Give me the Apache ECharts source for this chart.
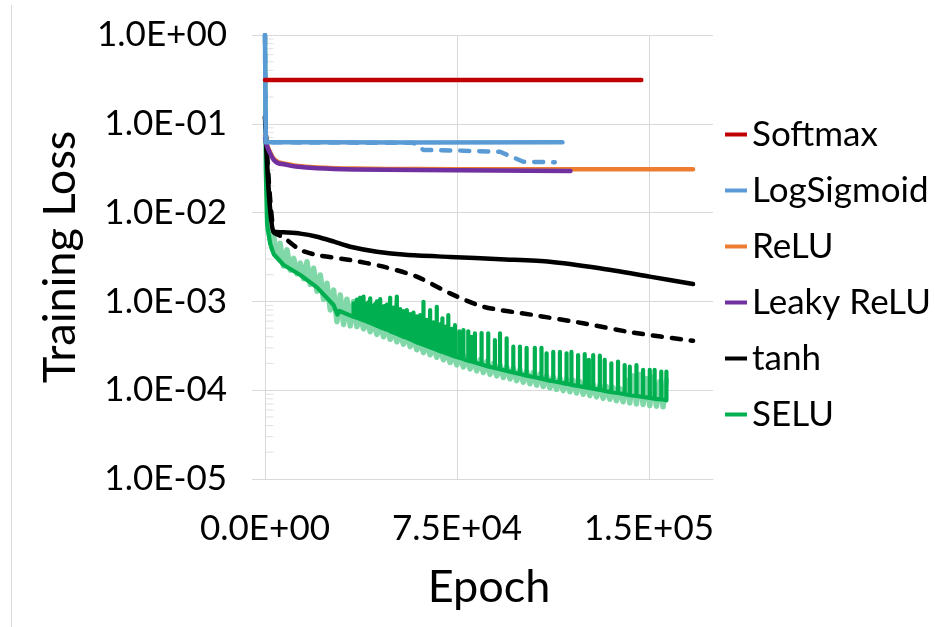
<!DOCTYPE html>
<html><head><meta charset="utf-8">
<script src="https://cdn.jsdelivr.net/npm/echarts@6/dist/echarts.min.js"></script>
<style>html,body{margin:0;padding:0;background:#fff}#c{width:935px;height:627px}</style>
</head><body><div id="c"></div>
<script>
// ---- tick labels ----
const xTickValues = [0, 75000, 150000];
const xTickLabels = ['0.0E+00', '7.5E+04', '1.5E+05'];
const yTickValues = [1e-5, 1e-4, 1e-3, 1e-2, 1e-1, 1];
const yTickLabels = ['1.0E-05', '1.0E-04', '1.0E-03', '1.0E-02', '1.0E-01', '1.0E+00'];
const yMinorMultipliers = [2, 3, 4, 5, 6, 7, 8, 9];
const legendNames = ['Softmax', 'LogSigmoid', 'ReLU', 'Leaky ReLU', 'tanh', 'SELU'];

// ---- series values (epoch, training loss) ----
const softmaxEpoch = [0, 147000];
const softmaxLoss = [0.311, 0.311];

const logSigmoidEpoch = [0, 300, 20000, 55000, 116200];
const logSigmoidLoss = [1.0, 0.062, 0.0619, 0.0616, 0.0618];

const logSigmoid2Epoch = [0, 300, 58000, 61900, 75000, 91800, 100900, 113200];
const logSigmoid2Loss = [1.0, 0.062, 0.061, 0.0507, 0.0500, 0.0484, 0.0374, 0.0369];

const reluEpoch = [0, 600, 1400, 3400, 5300, 7300, 12000, 20300, 35000, 59300, 90000, 120000, 167200];
const reluLoss = [0.075, 0.061, 0.052, 0.0405, 0.0368, 0.0357, 0.0337, 0.0322, 0.0313, 0.0309, 0.0308, 0.0307, 0.0307];

const leakyEpoch = [0, 600, 1400, 3400, 5300, 7300, 12000, 20300, 35000, 59300, 90000, 119300];
const leakyLoss = [0.07, 0.058, 0.0507, 0.0392, 0.0358, 0.0350, 0.0330, 0.0315, 0.0306, 0.0302, 0.0298, 0.0295];

const tanhEpoch = [0, 3300, 7300, 13800, 20300, 27000, 33300, 43700, 55000, 72300, 92000, 111300, 130800, 150300, 167200];
const tanhLoss = [0.12, 0.0061, 0.0060, 0.0058, 0.00535, 0.0047, 0.00413, 0.00363, 0.00335, 0.00317, 0.00298, 0.0028, 0.00236, 0.0019, 0.00157];

const tanh2Epoch = [0, 3300, 7100, 13800, 20300, 33300, 46300, 59300, 72300, 85300, 104800, 124300, 143800, 167200];
const tanh2Loss = [0.12, 0.0061, 0.0053, 0.0038, 0.00333, 0.00292, 0.00246, 0.0019, 0.00123, 0.00087, 0.000703, 0.000567, 0.000445, 0.00036];

const seluSmoothEpoch = [0, 300, 800, 2000, 3400, 7300, 13800, 20300, 26800, 28300, 29100, 34600];
const seluSmoothLoss = [1.0, 0.03, 0.0075, 0.0045, 0.0034, 0.00257, 0.00198, 0.00144, 0.00091, 0.00071, 0.00078, 0.00067];

const seluSpikeEpoch = [34600, 35300, 35900, 36600, 37200, 37900, 38500, 39200, 39800, 40500, 41100, 41800, 42400, 43100, 43700, 44400, 45000, 45700, 46300, 47000, 47600, 48300, 48900, 49600, 50200, 50900, 51500, 52200, 52800, 54100, 55400, 56700, 58000, 59300, 60600, 61900, 63200, 64500, 65800, 67100, 68400, 69300, 70500, 71600, 72900, 74200, 75900, 77500, 79400, 80700, 82000, 84600, 87200, 89800, 91800, 94400, 97000, 99600, 102200, 105400, 108000, 110000, 112600, 115200, 117800, 119700, 122300, 124900, 126500, 128200, 130800, 132700, 135300, 137900, 140500, 142500, 145100, 147700, 150300, 152200, 154800, 156800];
const seluSpikeBase = [6.7e-4, 6.6e-4, 6.5e-4, 6.4e-4, 6.3e-4, 6.2e-4, 6.1e-4, 6.0e-4, 5.9e-4, 5.8e-4, 5.7e-4, 5.6e-4, 5.5e-4, 5.4e-4, 5.3e-4, 5.2e-4, 5.1e-4, 5.0e-4, 4.95e-4, 4.85e-4, 4.8e-4, 4.7e-4, 4.6e-4, 4.5e-4, 4.45e-4, 4.35e-4, 4.3e-4, 4.2e-4, 4.15e-4, 4.0e-4, 3.9e-4, 3.75e-4, 3.6e-4, 3.45e-4, 3.35e-4, 3.25e-4, 3.15e-4, 3.05e-4, 2.95e-4, 2.85e-4, 2.75e-4, 2.7e-4, 2.62e-4, 2.55e-4, 2.47e-4, 2.4e-4, 2.32e-4, 2.25e-4, 2.15e-4, 2.1e-4, 2.05e-4, 1.95e-4, 1.85e-4, 1.78e-4, 1.72e-4, 1.65e-4, 1.58e-4, 1.52e-4, 1.46e-4, 1.4e-4, 1.35e-4, 1.3e-4, 1.26e-4, 1.22e-4, 1.18e-4, 1.15e-4, 1.12e-4, 1.08e-4, 1.06e-4, 1.04e-4, 1.01e-4, 9.8e-5, 9.5e-5, 9.3e-5, 9.0e-5, 8.8e-5, 8.6e-5, 8.4e-5, 8.2e-5, 8.0e-5, 7.9e-5, 7.7e-5];
const seluSpikePeak = [9.5e-4, 8.8e-4, 1.05e-3, 9.2e-4, 1.1e-3, 9.6e-4, 1.13e-3, 9.0e-4, 9.5e-4, 9.8e-4, 1.08e-3, 8.7e-4, 9.0e-4, 9.4e-4, 1.0e-3, 9.0e-4, 1.06e-3, 8.5e-4, 8.8e-4, 8.9e-4, 9.2e-4, 8.4e-4, 1.1e-3, 8.3e-4, 8.5e-4, 8.1e-4, 1.13e-3, 7.9e-4, 8.2e-4, 7.8e-4, 8.0e-4, 7.2e-4, 7.5e-4, 6.8e-4, 7.0e-4, 9.9e-4, 6.2e-4, 8.0e-4, 5.8e-4, 8.7e-4, 5.5e-4, 6.45e-4, 5.2e-4, 7.0e-4, 4.9e-4, 5.4e-4, 4.6e-4, 4.76e-4, 4.6e-4, 4.0e-4, 4.37e-4, 4.4e-4, 4.37e-4, 3.67e-4, 4.37e-4, 3.84e-4, 3.09e-4, 3.09e-4, 3.0e-4, 3.0e-4, 3.0e-4, 2.6e-4, 2.7e-4, 2.7e-4, 2.6e-4, 2.7e-4, 2.49e-4, 2.55e-4, 2.2e-4, 2.49e-4, 2.45e-4, 2.19e-4, 2.01e-4, 2.1e-4, 1.92e-4, 1.84e-4, 1.92e-4, 1.69e-4, 1.69e-4, 1.69e-4, 1.62e-4, 1.62e-4];

const seluLightEpoch = [1000, 1500, 2800, 3400, 4600, 5900, 7200, 8600, 9900, 11200, 12500, 13800, 15100, 16400, 17700, 19000, 20300, 21600, 22900, 24200, 25500, 26800, 28100, 29400, 30700, 32000, 33300, 34600, 35900, 37200, 38500, 39800, 41100, 42400, 43700, 45000, 46300, 47600, 48900, 50200, 51500, 52800, 54100, 55400, 56700, 58000, 59300, 60600, 61900, 63200, 64500, 65800, 67100, 68400, 69700, 71000, 72300, 73600, 74900, 76200, 77500, 78800, 80100, 81400, 82700, 84000, 85300, 86600, 87900, 89200, 90500, 91800, 93100, 94400, 95700, 97000, 98300, 99600, 100900, 102200, 103500, 104800, 106100, 107400, 108700, 110000, 111300, 112600, 113900, 115200, 116500, 117800, 119100, 120400, 121700, 123000, 124300, 125600, 126900, 128200, 129500, 130800, 132100, 133400, 134700, 136000, 137300, 138600, 139900, 141200, 142500, 143800, 145100, 146400, 147700, 149000, 150300, 151600, 152900, 154200, 155500, 156800];
const seluLightLoss = [6.5e-3, 6.0e-3, 3.9e-3, 5.4e-3, 3.2e-3, 4.5e-3, 2.5e-3, 3.8e-3, 2.25e-3, 3.05e-3, 2.05e-3, 2.7e-3, 1.8e-3, 2.8e-3, 1.55e-3, 2.36e-3, 1.3e-3, 1.98e-3, 1.05e-3, 1.6e-3, 8.0e-4, 1.34e-3, 5.9e-4, 1.18e-3, 5.5e-4, 1.06e-3, 5.3e-4, 1.0e-3, 5.2e-4, 7.0e-4, 4.9e-4, 6.4e-4, 4.55e-4, 6.0e-4, 4.25e-4, 5.5e-4, 4.0e-4, 5.2e-4, 3.75e-4, 4.8e-4, 3.5e-4, 4.5e-4, 3.3e-4, 4.2e-4, 3.1e-4, 3.9e-4, 2.85e-4, 3.6e-4, 2.65e-4, 3.4e-4, 2.5e-4, 3.2e-4, 2.35e-4, 3.0e-4, 2.2e-4, 2.8e-4, 2.05e-4, 2.65e-4, 1.93e-4, 2.5e-4, 1.83e-4, 2.4e-4, 1.74e-4, 2.3e-4, 1.65e-4, 2.2e-4, 1.58e-4, 2.1e-4, 1.51e-4, 2.0e-4, 1.45e-4, 1.92e-4, 1.39e-4, 1.85e-4, 1.34e-4, 1.78e-4, 1.28e-4, 1.7e-4, 1.23e-4, 1.64e-4, 1.18e-4, 1.58e-4, 1.14e-4, 1.52e-4, 1.1e-4, 1.46e-4, 1.06e-4, 1.42e-4, 1.02e-4, 1.37e-4, 9.9e-5, 1.33e-4, 9.6e-5, 1.29e-4, 9.3e-5, 1.25e-4, 9.0e-5, 1.21e-4, 8.7e-5, 1.17e-4, 8.4e-5, 1.14e-4, 8.1e-5, 1.1e-4, 7.9e-5, 1.07e-4, 7.6e-5, 1.04e-4, 7.4e-5, 1.3e-4, 7.2e-5, 1.45e-4, 7.0e-5, 1.5e-4, 6.9e-5, 1.35e-4, 6.7e-5, 1.4e-4, 6.6e-5, 1.25e-4, 6.5e-5, 1.3e-4];

// ---- build chart ----
const FONT = 'Lato';
const GRIDC = '#d9d9d9';
const pairs = (xs, ys) => xs.map((x, i) => [x, ys[i]]);

const seluDark = pairs(seluSmoothEpoch, seluSmoothLoss);
seluSpikeEpoch.forEach((e, i) => {
  seluDark.push([e, seluSpikeBase[i]], [e, seluSpikePeak[i]], [e, seluSpikeBase[i]]);
});
const minorTickData = [];
yTickValues.slice(0, -1).forEach(d => yMinorMultipliers.forEach(m => minorTickData.push([0, d * m])));

function lineSeries(name, data, color, width, extra) {
  return Object.assign({
    type: 'line', name: name, data: data,
    symbol: 'none', showSymbol: false, animation: false, silent: true,
    itemStyle: { color: color },
    lineStyle: { color: color, width: width, cap: 'round', join: 'round' },
    emphasis: { disabled: true }
  }, extra || {});
}
const dashed = (c, w) => ({ color: c, width: w, type: [9, 10], cap: 'round', join: 'round' });

function findLabel(values, labels, v, useLog) {
  for (let i = 0; i < values.length; i++) {
    const a = useLog ? Math.log10(values[i]) : values[i];
    const b = useLog ? Math.log10(v) : v;
    if (Math.abs(a - b) < 1e-6 * (useLog ? 1 : 100000)) return labels[i];
  }
  return '';
}

const chart = echarts.init(document.getElementById('c'), null, { renderer: 'canvas', width: 935, height: 627 });
chart.setOption({
  backgroundColor: '#ffffff',
  animation: false,
  grid: { left: 265, top: 35, width: 448, height: 444, containLabel: false, outerBoundsMode: 'none' },
  legend: {
    data: legendNames, orient: 'vertical', left: 720, top: 112,
    icon: 'rect', itemWidth: 22, itemHeight: 4, itemGap: 21, selectedMode: false,
    textStyle: { fontFamily: FONT, fontSize: 35, color: '#000' }
  },
  xAxis: {
    type: 'value', min: 0, max: 175000, interval: 75000,
    name: 'Epoch', nameLocation: 'middle', nameGap: 86,
    nameTextStyle: { fontFamily: FONT, fontSize: 45, color: '#000' },
    axisLine: { show: true, onZero: false, lineStyle: { color: GRIDC, width: 1 } },
    axisTick: { show: false },
    axisLabel: {
      margin: 32, fontFamily: FONT, fontSize: 35, color: '#000', showMaxLabel: false,
      formatter: v => findLabel(xTickValues, xTickLabels, v, false)
    },
    splitLine: { show: true, showMaxLine: false, lineStyle: { color: GRIDC, width: 1 } }
  },
  yAxis: {
    type: 'log', logBase: 10, min: 1e-5, max: 1,
    name: 'Training Loss', nameLocation: 'middle', nameGap: 182, nameRotate: 90,
    nameTextStyle: { fontFamily: FONT, fontSize: 45, color: '#000' },
    axisLine: { show: true, lineStyle: { color: GRIDC, width: 1 } },
    axisTick: { show: true, inside: false, length: 13, lineStyle: { color: GRIDC, width: 1 } },
    minorTick: { show: false },
    axisLabel: {
      margin: 38, fontFamily: FONT, fontSize: 35, color: '#000',
      formatter: v => findLabel(yTickValues, yTickLabels, v, true)
    },
    splitLine: { show: true, lineStyle: { color: GRIDC, width: 1 } }
  },
  graphic: [{
    type: 'line', silent: true,
    shape: { x1: 11.5, y1: 5, x2: 11.5, y2: 627 },
    style: { stroke: GRIDC, lineWidth: 1 }
  }],
  series: [
    {
      type: 'scatter', name: 'minor ticks', data: minorTickData, silent: true, animation: false,
      symbol: 'rect', symbolSize: [8, 1], symbolOffset: [4.5, 0], clip: false, z: 1,
      itemStyle: { color: GRIDC }
    },
    lineSeries('SELU run 2', pairs(seluLightEpoch, seluLightLoss), '#80d8a8', 5.5),
    lineSeries('SELU', seluDark, '#00b050', 4.2),
    lineSeries('tanh run 2', pairs(tanh2Epoch, tanh2Loss), '#000000', 4.5, { smooth: 0.25, lineStyle: dashed('#000000', 4.5) }),
    lineSeries('tanh', pairs(tanhEpoch, tanhLoss), '#000000', 4.5, { smooth: 0.25 }),
    lineSeries('ReLU', pairs(reluEpoch, reluLoss), '#ed7d31', 4.5, { smooth: 0.3 }),
    lineSeries('Leaky ReLU', pairs(leakyEpoch, leakyLoss), '#7030a0', 4.5, { smooth: 0.3 }),
    lineSeries('LogSigmoid run 2', pairs(logSigmoid2Epoch, logSigmoid2Loss), '#5b9bd5', 4.5, { lineStyle: dashed('#5b9bd5', 4.5) }),
    lineSeries('LogSigmoid', pairs(logSigmoidEpoch, logSigmoidLoss), '#5b9bd5', 4.5),
    lineSeries('Softmax', pairs(softmaxEpoch, softmaxLoss), '#c00000', 4.5)
  ]
});
</script>
</body></html>
